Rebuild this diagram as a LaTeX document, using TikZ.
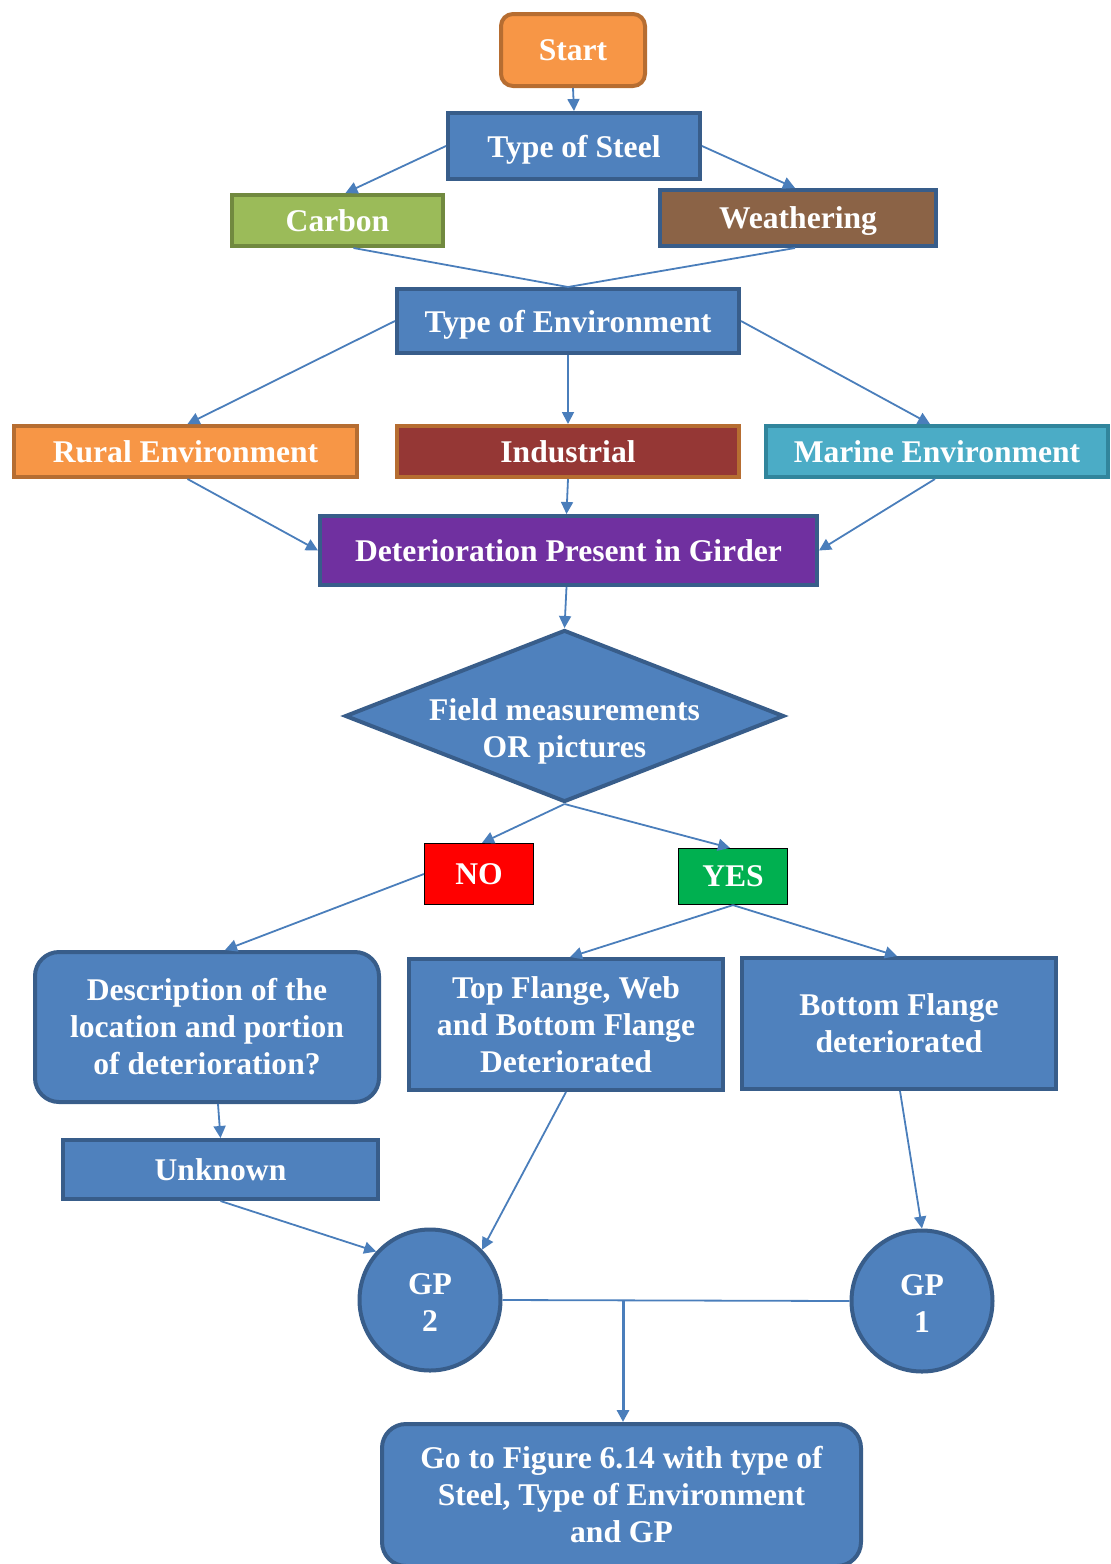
\documentclass[tikz,border=0pt]{standalone}
\usepackage{fontspec}
\setmainfont{Liberation Serif}
\usetikzlibrary{shapes.geometric,arrows.meta}
\definecolor{boxblue}{HTML}{4F81BD}
\definecolor{boxborder}{HTML}{385D8A}
\definecolor{orfill}{HTML}{F79646}
\definecolor{orborder}{HTML}{B66D31}
\definecolor{grfill}{HTML}{9BBB59}
\definecolor{grborder}{HTML}{71893F}
\definecolor{brfill}{HTML}{8B6346}
\definecolor{indfill}{HTML}{953735}
\definecolor{mafill}{HTML}{4BACC6}
\definecolor{maborder}{HTML}{31859C}
\definecolor{pufill}{HTML}{7030A0}
\definecolor{nofill}{HTML}{FF0000}
\definecolor{yesfill}{HTML}{00B050}
\definecolor{arrowblue}{HTML}{4A7EBB}
\newcommand{\fsz}{\fontsize{15.8}{18.5}\selectfont\bfseries}
\tikzset{
  base/.style={draw, line width=2pt, text=white, font=\fsz, align=center, inner sep=0pt},
  bluebox/.style={base, fill=boxblue, draw=boxborder},
  oneline/.style={text depth=0pt},
  flag/.style={base, line width=0.6pt, draw=black},
  arr/.style={draw=arrowblue, line width=0.9pt, -{Triangle[length=6pt,width=6pt]}},
  ln/.style={draw=arrowblue, line width=0.9pt},
}
\begin{document}
\begin{tikzpicture}[x=0.5pt,y=-0.5pt]
\useasboundingbox (0,0) rectangle (1110,1564);
% nodes
\node[base, fill=orfill, draw=orborder, rounded corners=6pt, minimum width=72pt, minimum height=36pt] (start) at (573,50) {Start};
\node[bluebox, oneline, minimum width=126pt, minimum height=33pt] (steel) at (574,146) {Type of Steel};
\node[base, oneline, fill=grfill, draw=grborder, minimum width=105.5pt, minimum height=25.5pt] (carbon) at (337.5,220.5) {Carbon};
\node[base, oneline, fill=brfill, draw=boxborder, minimum width=138pt, minimum height=28pt] (weather) at (798,218) {Weathering};
\node[bluebox, oneline, minimum width=171pt, minimum height=32pt] (env) at (568,321) {Type of Environment};
\node[base, oneline, fill=orfill, draw=orborder, minimum width=171.5pt, minimum height=25.5pt] (rural) at (185.5,451.5) {Rural Environment};
\node[base, oneline, fill=indfill, draw=orborder, minimum width=171pt, minimum height=25.5pt] (ind) at (568,451.5) {Industrial};
\node[base, oneline, fill=mafill, draw=maborder, minimum width=171pt, minimum height=25.5pt] (marine) at (937,451.5) {Marine Environment};
\node[base, fill=pufill, draw=boxborder, minimum width=248.5pt, minimum height=34.5pt] (det) at (568.5,550.5) {Deterioration Present in Girder};
\node[bluebox, shape=diamond, aspect=2.52, minimum width=219.5pt, minimum height=86pt] (field) at (564.5,716) {};
\node[text=white, font=\fsz, align=center, inner sep=0pt] (fieldtext) at (564.5,731) {Field measurements\\OR pictures};
\node[flag, oneline, fill=nofill, minimum width=54.5pt, minimum height=30.5pt] (no) at (479,874) {NO};
\node[flag, oneline, fill=yesfill, minimum width=54.5pt, minimum height=28pt] (yes) at (733,876.5) {YES};
\node[bluebox, rounded corners=12pt, minimum width=172pt, minimum height=75pt] (desc) at (207,1027) {Description of the\\location and portion\\of deterioration?};
\node[bluebox, minimum width=157pt, minimum height=65.5pt] (tf) at (566,1024.5) {Top Flange, Web\\and Bottom Flange\\Deteriorated};
\node[bluebox, minimum width=157pt, minimum height=65.5pt] (bf) at (899,1023.5) {Bottom Flange\\deteriorated};
\node[bluebox, oneline, minimum width=157.5pt, minimum height=29.5pt] (unk) at (220.5,1169.5) {Unknown};
\node[bluebox, circle, oneline, minimum size=70.5pt] (gp2) at (430,1300) {};
\node[text=white, font=\fsz, align=center, inner sep=0pt] (gp2text) at (430,1303) {GP\\2};
\node[bluebox, circle, oneline, minimum size=70.5pt] (gp1) at (922,1301) {};
\node[text=white, font=\fsz, align=center, inner sep=0pt] (gp1text) at (922,1304) {GP\\1};
\node[bluebox, rounded corners=12pt, minimum width=239.5pt, minimum height=71pt] (goto) at (621.5,1495) {Go to Figure 6.14 with type of\\Steel, Type of Environment\\and GP};
% connectors
\draw[arr] (start.south) -- (steel.north);
\draw[arr] (steel.west) -- ([xshift=4pt]carbon.north);
\draw[arr] (steel.east) -- ([xshift=-1.5pt]weather.north);
\draw[ln] ([xshift=8pt]carbon.south) -- (env.north);
\draw[ln] ([xshift=-1.5pt]weather.south) -- (env.north);
\draw[arr] (env.west) -- ([xshift=1pt]rural.north);
\draw[arr] (env.south) -- (ind.north);
\draw[arr] (env.east) -- ([xshift=-3.5pt]marine.north);
\draw[arr] ([xshift=1pt]rural.south) -- (det.west);
\draw[arr] (ind.south) -- ([xshift=-1pt]det.north);
\draw[arr] ([xshift=-1pt]marine.south) -- (det.east);
\draw[arr] ([xshift=-1pt]det.south) -- (field.north);
\draw[arr] (field.south) -- ([xshift=1.5pt]no.north);
\draw[arr] (field.south) -- ([xshift=-1.5pt]yes.north);
\draw[arr] (no.west) -- ([xshift=9pt]desc.north);
\draw[arr] (yes.south) -- ([xshift=2pt]tf.north);
\draw[arr] (yes.south) -- ([xshift=-1pt]bf.north);
\draw[arr] ([xshift=5.5pt]desc.south) -- (unk.north);
\draw[arr] (unk.south) -- (gp2.138);
\draw[arr] (tf.south) -- (gp2.44);
\draw[arr] ([xshift=0.5pt]bf.south) -- (gp1.north);
\draw[ln] (gp2.east) -- (gp1.west);
\coordinate (j) at (623,1301);
\draw[arr, line width=1.5pt] (j) -- (j |- goto.north);
\end{tikzpicture}
\end{document}
